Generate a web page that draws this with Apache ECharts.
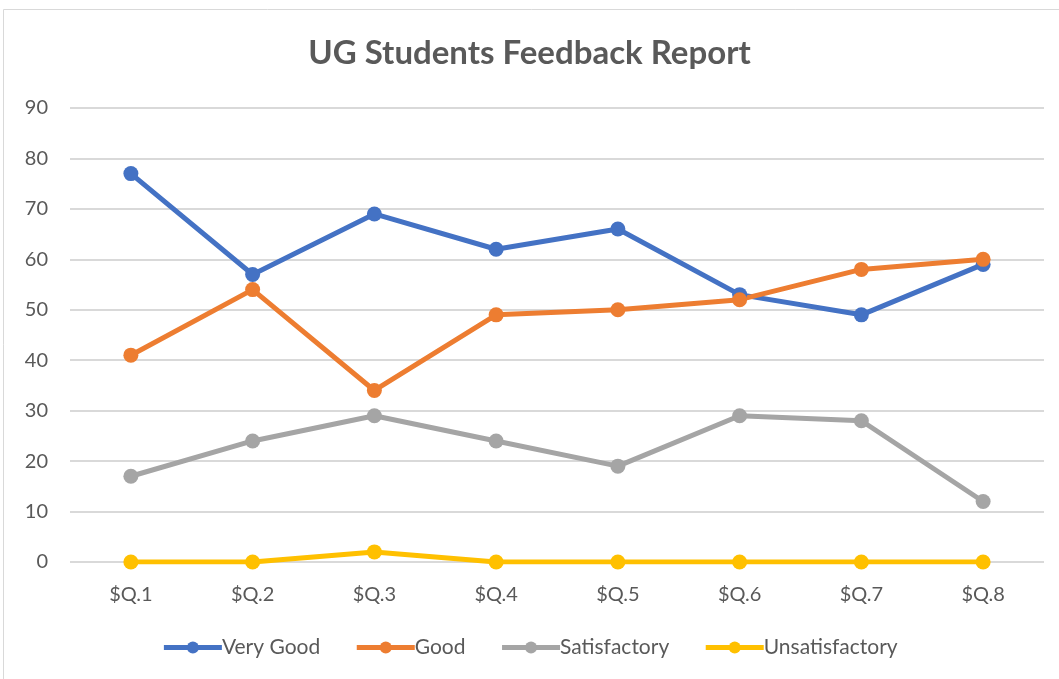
<!DOCTYPE html>
<html>
<head>
<meta charset="utf-8">
<title>UG Students Feedback Report</title>
<script src="https://cdn.jsdelivr.net/npm/echarts@6/dist/echarts.min.js"></script>
<style>
  html, body { margin: 0; padding: 0; background: #ffffff; }
  #chart { width: 1059px; height: 679px; }
</style>
</head>
<body>
<div id="chart"></div>
<script>
// 数据
const questions = ['$Q.1', '$Q.2', '$Q.3', '$Q.4', '$Q.5', '$Q.6', '$Q.7', '$Q.8'];
const veryGood = [77, 57, 69, 62, 66, 53, 49, 59];
const good = [41, 54, 34, 49, 50, 52, 58, 60];
const satisfactory = [17, 24, 29, 24, 19, 29, 28, 12];
const unsatisfactory = [0, 0, 2, 0, 0, 0, 0, 0];

const FONT = 'Lato, "Open Sans", "Noto Sans", sans-serif';
const TEXT = '#595959';

function lineSeries(name, data, color) {
  return {
    name,
    type: 'line',
    data,
    symbol: 'circle',
    symbolSize: 15,
    lineStyle: { color, width: 5 },
    itemStyle: { color },
  };
}

const chart = echarts.init(document.getElementById('chart'));
chart.setOption({
  animation: false,
  backgroundColor: '#ffffff',
  graphic: [{
    type: 'rect',
    shape: { x: 3.5, y: 9.5, width: 1100, height: 700 },
    style: { fill: 'none', stroke: '#d9d9d9', lineWidth: 1 },
    silent: true,
  }],
  title: {
    text: 'UG Students Feedback Report',
    left: 'center',
    top: 32,
    textStyle: { fontFamily: FONT, fontSize: 33, fontWeight: 'bold', color: TEXT },
  },
  legend: {
    bottom: 16,
    left: 'center',
    itemWidth: 58,
    itemHeight: 15,
    itemGap: 34,
    lineStyle: { width: 5 },
    textStyle: { fontFamily: FONT, fontSize: 21, color: TEXT, padding: [0, 0, 0, -5] },
    data: ['Very Good', 'Good', 'Satisfactory', 'Unsatisfactory'],
  },
  grid: { left: 70, right: 15, top: 108, bottom: 117, containLabel: false },
  xAxis: {
    type: 'category',
    data: questions,
    boundaryGap: true,
    axisLine: { show: false },
    axisTick: { show: false },
    axisLabel: { fontFamily: FONT, fontSize: 20, color: TEXT, margin: 23 },
  },
  yAxis: {
    type: 'value',
    min: 0,
    max: 90,
    interval: 10,
    axisLine: { show: false },
    axisTick: { show: false },
    splitLine: { lineStyle: { color: '#d9d9d9', width: 2 } },
    axisLabel: { fontFamily: FONT, fontSize: 20, color: TEXT, margin: 22 },
  },
  series: [
    lineSeries('Very Good', veryGood, '#4472c4'),
    lineSeries('Good', good, '#ed7d31'),
    lineSeries('Satisfactory', satisfactory, '#a5a5a5'),
    lineSeries('Unsatisfactory', unsatisfactory, '#ffc000'),
  ],
});
</script>
</body>
</html>
